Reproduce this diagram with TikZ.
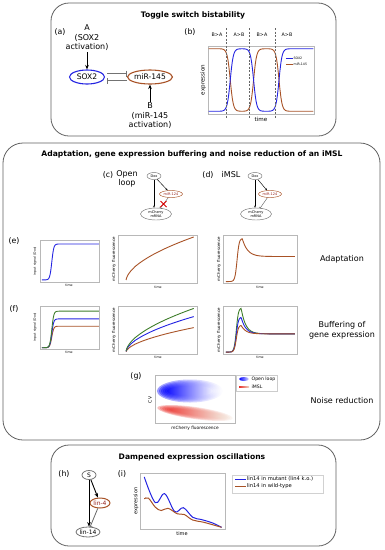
\documentclass[tikz,border=0pt]{standalone}
\usepackage{fontspec}
\setmainfont{DejaVu Sans}
\usetikzlibrary{arrows.meta,calc,shapes.geometric,shapes.misc}

\definecolor{soxblue}{RGB}{35,35,225}
\definecolor{mirbrown}{RGB}{168,82,38}
\definecolor{mirtext}{RGB}{150,35,30}
\definecolor{highgreen}{RGB}{62,125,42}
\definecolor{blobred}{RGB}{235,45,40}

\begin{document}
\begin{tikzpicture}[
  x=1pt,y=-1pt,
  declare function={sg(\t)=1/(1+exp(-max(-9,min(9,\t))));},
  panel/.style={draw=black!62, line width=0.8pt, rounded corners=18pt},
  heading/.style={font=\fontsize{7.6}{9}\selectfont\bfseries},
  tag/.style={font=\fontsize{7.8}{9}\selectfont},
  body/.style={font=\fontsize{8}{9.6}\selectfont, align=center, inner sep=1pt},
  gene/.style={ellipse, draw, line width=1.1pt, inner sep=0pt, font=\fontsize{7.6}{9}\selectfont},
  minigene/.style={ellipse, draw=black!55, line width=0.45pt, inner sep=0.2pt, align=center, font=\fontsize{3.5}{3.7}\selectfont},
  mirna/.style={draw=mirbrown, text=mirtext},
  act/.style={-{Stealth[length=4.5pt,width=3.6pt]}, line width=0.9pt},
  miniact/.style={-{Stealth[length=2.2pt,width=1.8pt]}, line width=0.45pt},
  inh/.style={-{Bar[width=6pt]}, draw=black!55, line width=1pt},
  miniinh/.style={-{Bar[width=3pt]}, draw=black!60, line width=0.45pt},
  frame/.style={draw=black!28, line width=0.5pt},
  curve/.style={line width=0.9pt, samples=120},
  axlab/.style={font=\fontsize{3.2}{3.5}\selectfont, inner sep=0.5pt},
  fluolab/.style={font=\fontsize{4}{4.5}\selectfont, inner sep=0.5pt},
  keytext/.style={font=\fontsize{4.6}{5}\selectfont, anchor=west, inner sep=0.5pt, text=black},
  switchline/.style={draw=black!60, dash pattern=on 2pt off 1.5pt, line width=0.45pt}
]
\path[use as bounding box] (0,0) rectangle (384,550);

% Toggle switch
\draw[panel] (51,3) rectangle (336,136);
\node[heading] (togglehead) at (193,15) {Toggle switch bistability};
\node[tag] (taga) at (60,32) {(a)};
\node[body] (inputA) at (87,38) {A\\(SOX2\\activation)};
\node[gene, draw=soxblue, minimum width=35pt, minimum height=14pt] (sox) at (87,77) {SOX2};
\node[gene, draw=mirbrown, minimum width=43pt, minimum height=14pt] (mir145) at (150,77) {miR-145};
\node[body] (inputB) at (150,116) {B\\(miR-145\\activation)};
\draw[act] (inputA) -- (sox);
\draw[act] (inputB) -- (mir145);
\draw[inh, shorten <=2pt] ([yshift=3.5pt]sox.east) -- ([yshift=3.5pt]mir145.west);
\draw[inh, shorten >=2pt] ([yshift=-3.5pt]mir145.west) -- ([yshift=-3.5pt]sox.east);

\node[tag] (tagb) at (190,32) {(b)};
\foreach \px/\lab [count=\i] in {217/B>A,239/A>B,262/B>A,287/A>B}
  \node[font=\fontsize{4.8}{5}\selectfont] (phase\i) at (\px,35) {\lab};
\begin{scope}[shift={(208,114)}, x=106pt, y=68pt]
  \draw[frame] (0,0) rectangle (1,1);
  \draw[curve, mirbrown, domain=0.005:0.995] plot (\x, {0.96-0.92*(sg(70*(\x-0.21))-sg(70*(\x-0.43))+sg(70*(\x-0.67)))});
  \draw[curve, soxblue, domain=0.005:0.995] plot (\x, {0.04+0.92*(sg(70*(\x-0.21))-sg(70*(\x-0.43))+sg(70*(\x-0.67)))});
  % legend
  \fill[white] (0.72,0.69) rectangle (0.985,0.88);
  \draw[soxblue, line width=0.8pt] (0.735,0.82) -- (0.8,0.82)
    node[keytext, font=\fontsize{3.2}{3.5}\selectfont] (keysox) {SOX2};
  \draw[mirbrown, line width=0.8pt] (0.735,0.735) -- (0.8,0.735)
    node[keytext, font=\fontsize{3.2}{3.5}\selectfont] (keymir) {miR-145};
\end{scope}
\foreach \dx in {226,249,275}
  \draw[switchline] (\dx,28) -- (\dx,118);
\node[font=\fontsize{5.6}{6}\selectfont, rotate=90] (bylab) at (203,80) {expression};
\node[font=\fontsize{5.6}{6}\selectfont] (bxlab) at (261,119) {time};

% Adaptation, buffering and noise
\draw[panel, rounded corners=20pt] (3,143) rectangle (380,440);
\node[heading] (adapthead) at (192,154) {Adaptation, gene expression buffering and noise reduction of an iMSL};

\node[tag] (tagc) at (108,175) {(c)};
\node[body] (openloop) at (127,179) {Open\\loop};
\node[minigene, minimum width=14pt, minimum height=7pt] (doxc) at (154,176) {Dox};
\node[minigene, mirna, minimum width=23pt, minimum height=7pt] (mirc) at (171,194) {miR-124};
\node[minigene, minimum width=31pt, minimum height=12pt] (mchc) at (156,214) {mCherry\\mRNA};
\draw[miniact] (doxc.south) -- (doxc.south |- mchc.north);
\draw[miniact] (doxc) -- (mirc);
\draw[miniinh] (mirc) -- (mchc);
\node[cross out, draw=red!85!black, line width=1pt, minimum size=5pt, inner sep=0pt] (cutc) at ($(mirc)!0.5!(mchc)$) {};

\node[tag] (tagd) at (208,175) {(d)};
\node[body] (imsl) at (231,175) {iMSL};
\node[minigene, minimum width=14pt, minimum height=7pt] (doxd) at (255,176) {Dox};
\node[minigene, mirna, minimum width=23pt, minimum height=7pt] (mird) at (270,194) {miR-124};
\node[minigene, minimum width=31pt, minimum height=12pt] (mchd) at (256,214) {mCherry\\mRNA};
\draw[miniact] (doxd.south) -- (doxd.south |- mchd.north);
\draw[miniact] (doxd) -- (mird);
\draw[miniinh] (mird) -- (mchd);

% (e) adaptation
\node[tag] (tage) at (14,241) {(e)};
\begin{scope}[shift={(40,282)}, x=59pt, y=42pt]
  \draw[frame] (0,0) rectangle (1,1);
  \draw[curve, soxblue, domain=0.03:1] plot (\x, {0.05+0.855*sg(60*(\x-0.2))});
\end{scope}
\node[axlab, rotate=90] (e1y) at (35,261) {input signal (Dox)};
\node[axlab] (e1x) at (69,285.5) {time};

\begin{scope}[shift={(118,283)}, x=79pt, y=48pt]
  \draw[frame] (0,0) rectangle (1,1);
  \draw[curve, mirbrown, domain=0.102:0.96] plot (\x, {0.03+0.93*((\x-0.1)/0.86)^0.55});
\end{scope}
\node[fluolab, rotate=90] (e2y) at (114,259) {mCherry fluorescence};
\node[axlab] (e2x) at (158,287) {time};

\begin{scope}[shift={(223,283)}, x=74pt, y=48pt]
  \draw[frame] (0,0) rectangle (1,1);
  \draw[curve, mirbrown, domain=0.04:0.97] plot (\x, {0.03+0.9*sg(70*(\x-0.19))*(0.58+0.42*exp(-max(0,\x-0.26)/0.07))});
\end{scope}
\node[fluolab, rotate=90] (e3y) at (219,259) {mCherry fluorescence};
\node[axlab] (e3x) at (260,287) {time};
\node[body] (adaptlbl) at (342,259) {Adaptation};

% (f) buffering
\node[tag] (tagf) at (14,309) {(f)};
\begin{scope}[shift={(40,349)}, x=59pt, y=43pt]
  \draw[frame] (0,0) rectangle (1,1);
  \foreach \lvl/\col in {0.5/mirbrown,0.67/soxblue,0.85/highgreen}
    \draw[curve, draw=\col, domain=0.03:1] plot (\x, {0.03+\lvl*sg(60*(\x-0.2))});
\end{scope}
\node[axlab, rotate=90] (f1y) at (35,327) {input signal (Dox)};
\node[axlab] (f1x) at (69,352.5) {time};

\begin{scope}[shift={(118,354)}, x=79pt, y=48pt]
  \draw[frame] (0,0) rectangle (1,1);
  \foreach \amp/\col in {0.52/mirbrown,0.75/soxblue,0.92/highgreen}
    \draw[curve, draw=\col, domain=0.102:0.96] plot (\x, {0.03+\amp*((\x-0.1)/0.86)^0.55});
\end{scope}
\node[fluolab, rotate=90] (f2y) at (114,330) {mCherry fluorescence};
\node[axlab] (f2x) at (158,357.5) {time};

\begin{scope}[shift={(223,354)}, x=74pt, y=48pt]
  \draw[frame] (0,0) rectangle (1,1);
  \foreach \pk/\col in {0.92/highgreen,0.73/soxblue,0.56/mirbrown}
    \draw[curve, draw=\col, domain=0.04:0.97] plot (\x, {0.04+sg(70*(\x-0.18))*(0.38+(\pk-0.38)*exp(-max(0,\x-0.245)/0.06))});
\end{scope}
\node[fluolab, rotate=90] (f3y) at (219,330) {mCherry fluorescence};
\node[axlab] (f3x) at (260,357.5) {time};
\node[body] (bufferlbl) at (342,330) {Buffering of\\gene expression};

% (g) noise
\node[tag] (tagg) at (136,376) {(g)};
\begin{scope}
  \clip (155,375) rectangle (235,423);
  \foreach \k in {0,...,5}
    \shade[left color=blue, middle color=blue!85, right color=white, opacity=0.4]
      (190,391) ellipse[x radius={33-2*\k}, y radius={11.5-1.2*\k}];
  \begin{scope}[rotate around={-8:(195,413)}]
    \foreach \k in {0,...,5}
      \shade[left color=blobred, middle color=blobred!60!white, right color=brown!20!white, opacity=0.32]
        (195,413) ellipse[x radius={38-2.4*\k}, y radius={6-0.7*\k}];
  \end{scope}
\end{scope}
\draw[frame] (155,375) rectangle (235,423);
\node[fluolab, rotate=90, font=\fontsize{4.5}{5}\selectfont] (gylab) at (150,400) {CV};
\node[fluolab, font=\fontsize{4.3}{5}\selectfont] (gxlab) at (195,428) {mCherry fluorescence};
\draw[black!20, line width=0.4pt, fill=white] (236,375) rectangle (277,391);
\shade[left color=blue, right color=blue!15] (244,379) ellipse[x radius=5, y radius=2];
\node[keytext] (keyopen) at (251,379) {Open loop};
\shade[left color=blobred, right color=brown!30!white] (239,386.5) rectangle (249,387.6);
\node[keytext] (keyimsl) at (251,387) {iMSL};
\node[body] (noiselbl) at (342,401) {Noise reduction};

% Dampened oscillations
\draw[panel] (51,445) rectangle (336,546);
\node[heading] (osclhead) at (192,457) {Dampened expression oscillations};
\node[tag] (tagh) at (64,474) {(h)};
\node[gene, draw=black!55, line width=0.8pt, font=\fontsize{6}{7}\selectfont, minimum width=14pt, minimum height=9pt] (sig) at (89,475) {S};
\node[gene, mirna, line width=1pt, font=\fontsize{6}{7}\selectfont, minimum width=20pt, minimum height=10pt] (lin4) at (100,503) {lin-4};
\node[gene, draw=black!55, line width=0.8pt, font=\fontsize{6}{7}\selectfont, minimum width=24pt, minimum height=10pt] (lin14) at (88,532) {lin-14};
\draw[act] (sig.south) -- (sig.south |- lin14.north);
\draw[act] (sig) -- (lin4);
\draw[inh, draw=black!60, line width=0.8pt, -{Bar[width=5pt]}] (lin4) -- (lin14);

\node[tag] (tagi) at (122,474) {(i)};
\begin{scope}[shift={(140,529)}, x=85pt, y=56pt]
  \draw[frame] (0,0) rectangle (1,1);
  \draw[line width=1pt, soxblue] plot[smooth, tension=0.6] coordinates {(0.05,0.93) (0.18,0.47) (0.29,0.63) (0.41,0.31) (0.51,0.38) (0.62,0.21) (0.72,0.17) (0.85,0.11) (0.96,0.03)};
  \draw[line width=1pt, mirbrown] plot[smooth, tension=0.6] coordinates {(0.05,0.54) (0.10,0.55) (0.18,0.39) (0.25,0.33) (0.33,0.37) (0.44,0.27) (0.52,0.26) (0.62,0.16) (0.75,0.12) (0.96,0.03)};
\end{scope}
\node[font=\fontsize{5}{5.5}\selectfont, rotate=90] (iylab) at (136,501) {expression};
\node[font=\fontsize{5}{5.5}\selectfont] (ixlab) at (182,534) {time};
\draw[black!18, line width=0.4pt] (232,475) rectangle (323,493);
\draw[soxblue, line width=1pt] (235,479) -- (246,479)
  node[keytext, font=\fontsize{5.2}{6}\selectfont] (keymut) {lin14 in mutant (lin4 k.o.)};
\draw[mirbrown, line width=1pt] (235,486) -- (246,486)
  node[keytext, font=\fontsize{5.2}{6}\selectfont] (keywt) {lin14 in wild-type};

\end{tikzpicture}
\end{document}
